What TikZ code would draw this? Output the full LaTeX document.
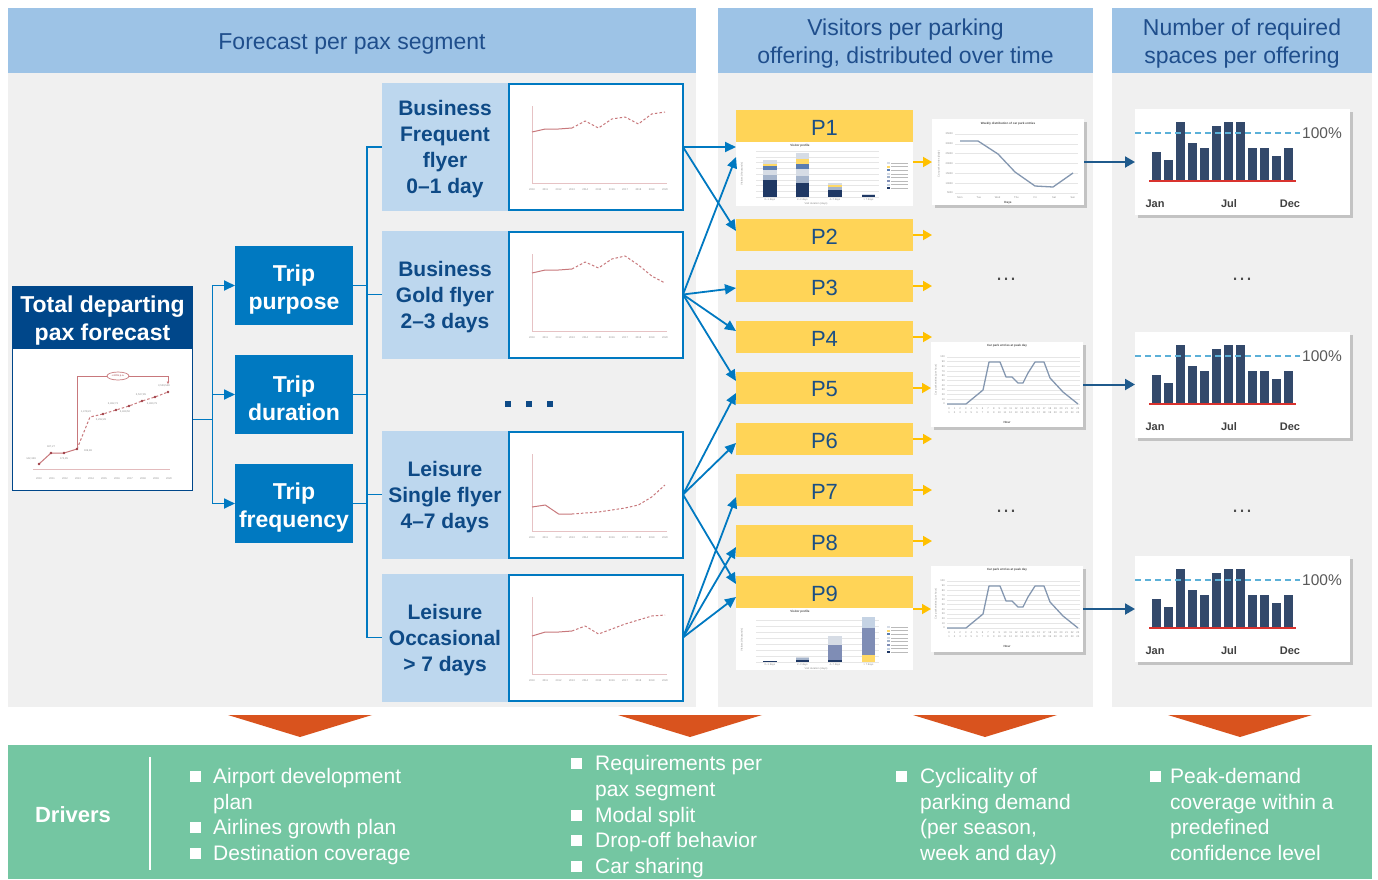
\documentclass[tikz,border=0pt]{standalone}
\usepackage{fontspec}
\setmainfont{Liberation Sans}
\usetikzlibrary{arrows.meta,shadows,calc}

\definecolor{hdrblue}{HTML}{9DC3E6}
\definecolor{hdrtxt}{HTML}{1F4E8C}
\definecolor{panelgray}{HTML}{F0F0F0}
\definecolor{navyhdr}{HTML}{00478A}
\definecolor{tripblue}{HTML}{0079C1}
\definecolor{seglight}{HTML}{BDD7EE}
\definecolor{segtxt}{HTML}{0E4A86}
\definecolor{pyellow}{HTML}{FFD457}
\definecolor{ptxt}{HTML}{1B4F85}
\definecolor{yarrow}{HTML}{FFC000}
\definecolor{navyarr}{HTML}{1F5A8C}
\definecolor{barnavy}{HTML}{33496B}
\definecolor{dashblue}{HTML}{5BB0D8}
\definecolor{redline}{HTML}{D9322E}
\definecolor{chevron}{HTML}{D9531E}
\definecolor{drvgreen}{HTML}{74C6A2}
\definecolor{plotred}{HTML}{C8787C}
\definecolor{plotdark}{HTML}{9E3D45}
\definecolor{gridgray}{HTML}{E6E6E6}
\definecolor{tinygray}{HTML}{8C8C8C}
\definecolor{wkline}{HTML}{8497B0}
\definecolor{stkA}{HTML}{1F3864}
\definecolor{stkB}{HTML}{A5B4CB}
\definecolor{stkC}{HTML}{D6DCE5}
\definecolor{stkD}{HTML}{5B7DB1}
\definecolor{stkE}{HTML}{FFD966}
\definecolor{stkF}{HTML}{7F8DB5}
\definecolor{stkG}{HTML}{C5D3E4}

\newcommand{\fs}[2]{\fontsize{#1}{#2}\selectfont}

% axes and year labels of a segment trend chart
\newcommand{\segaxes}[2]{%
\begin{scope}[shift={(0,#2)}]
  \draw[plotred!45, line width=0.7pt] (532,23) -- (532,100) -- (667,100);
  \foreach \i [evaluate=\i as \yr using int(2010+\i)] in {0,...,10}
    \node[tinyt] (#1yr\i) at ({532+13.3*\i},107) {\yr};
\end{scope}}

% monthly demand bars against the 100% capacity line
\newcommand{\demandbars}[1]{%
\begin{scope}[shift={(#1.north west)}]
  \foreach \i/\h in {0/43,1/51,2/13,3/34,4/39,5/17,6/13,7/13,8/39,9/39,10/47,11/39}
    \fill[barnavy] ({17+\i*12},\h) rectangle ({26+\i*12},72);
  \draw[redline, line width=1.4pt] (14,72) -- (161,72);
  \draw[dashblue, line width=1.4pt, dash pattern=on 6pt off 4pt] (0,24) -- (165,24);
  \node[anchor=west, inner sep=0pt, text=black!65, font=\fs{15.5}{16}] (#1pct) at (167,24) {100\%};
  \node[monthlbl] (#1jan) at (20,95) {Jan};
  \node[monthlbl] (#1jul) at (94,95) {Jul};
  \node[monthlbl] (#1dec) at (155,95) {Dec};
\end{scope}}

% hourly entries on the peak day
\newcommand{\peakchart}[1]{%
\begin{scope}[shift={(#1.north west)}]
  \node[tinyb] (#1t) at (76,4) {Car park entries at peak day};
  \foreach \k in {0,...,10} \draw[gridgray, line width=0.5pt] (16,{15+\k*4.7}) -- (149,{15+\k*4.7});
  \foreach \k [evaluate=\k as \v using int(100-10*\k)] in {0,...,10}
    \node[tinyt, anchor=east] (#1y\k) at (14,{15+\k*4.7}) {\v};
  \node[tinyt, rotate=90] (#1yl) at (5,38) {Car park entries (per hour)};
  \draw[wkline, line width=1.3pt, line join=round] (16,62) -- (35,62) -- (52,48) -- (58,20) -- (69,20) -- (75,35) -- (81,35) -- (87,41) -- (92,41) -- (97,31) -- (104,20) -- (113,20) -- (119,36) -- (132,50) -- (147,62);
  \foreach \i [evaluate=\i as \j using int(\i+1)] in {0,...,23} {
    \node[tinyt] (#1a\i) at ({18+\i*5.6},67) {\i};
    \node[tinyt] (#1b\i) at ({18+\i*5.6},71) {\j};}
  \node[tinyb] (#1xl) at (76,80) {Hour};
\end{scope}}

\begin{document}
\begin{tikzpicture}[x=1pt,y=-1pt,
  box/.style={inner sep=0pt, outer sep=0pt, align=center},
  lbl/.style={inner sep=0pt, align=center},
  hdr/.style={box, fill=hdrblue},
  hdrtext/.style={lbl, text=hdrtxt, font=\fs{23}{28}},
  totbox/.style={box, fill=navyhdr},
  tottext/.style={lbl, text=white, font=\bfseries\fs{23}{28}},
  trip/.style={box, fill=tripblue, minimum width=118pt, minimum height=79pt},
  triptext/.style={lbl, text=white, font=\bfseries\fs{23}{28}},
  segl/.style={box, fill=seglight, minimum width=126pt, minimum height=128pt},
  segtext/.style={lbl, text=segtxt, font=\bfseries\fs{21}{26}},
  segc/.style={box, fill=white, draw=tripblue, line width=2pt, minimum width=174pt, minimum height=126pt},
  pbox/.style={box, fill=pyellow, minimum width=177pt, minimum height=32pt},
  ptext/.style={lbl, text=ptxt, font=\fs{22}{26}},
  pchart/.style={box, fill=white, minimum width=177pt},
  card/.style={box, fill=white, drop shadow={shadow xshift=3pt, shadow yshift=-3pt, opacity=0.4}},
  conn/.style={draw=tripblue, line width=1.8pt},
  carr/.style={conn, -{Triangle[length=11pt,width=10pt]}},
  yarr/.style={draw=yarrow, line width=1.8pt, -{Triangle[length=9pt,width=10pt]}},
  narr/.style={draw=navyarr, line width=2pt, -{Triangle[length=10pt,width=11pt]}},
  trend/.style={draw=plotred, line width=1pt, line join=round},
  trendf/.style={trend, dash pattern=on 2.5pt off 2pt},
  tinyt/.style={font=\fs{2.6}{3}, text=tinygray, inner sep=0pt},
  tinyb/.style={font=\bfseries\fs{3}{3.5}, text=black!70, inner sep=0pt},
  monthlbl/.style={font=\bfseries\fs{11}{12}, text=black!75, inner sep=0pt},
  dotsstyle/.style={font=\fs{22}{24}, text=black!70, inner sep=0pt},
  drv/.style={anchor=base west, inner sep=0pt, text=white, font=\fs{21}{25}}
]
\useasboundingbox (0,0) rectangle (1378,879);
\fill[white] (0,0) rectangle (1378,879);

% ---------- column panels and headers ----------
\fill[panelgray] (8,73) rectangle (696,707);
\fill[panelgray] (718,73) rectangle (1093,707);
\fill[panelgray] (1112,73) rectangle (1372,707);
\node[hdr, minimum width=688pt, minimum height=65pt] (hseg) at (352,40.5) {};
\node[hdr, minimum width=375pt, minimum height=65pt] (hvis) at (905.5,40.5) {};
\node[hdr, minimum width=260pt, minimum height=65pt] (hreq) at (1242,40.5) {};
\node[hdrtext] (hsegt) at ($(hseg.center)+(0,3)$) {Forecast per pax segment};
\node[hdrtext] (hvist) at ($(hvis.center)+(0,3)$) {Visitors per parking\\offering, distributed over time};
\node[hdrtext] (hreqt) at ($(hreq.center)+(0,3)$) {Number of required\\spaces per offering};

% ---------- chevrons and drivers band ----------
\foreach \c in {300,690,985,1240}
  \fill[chevron] ({\c-72},715) -- ({\c+72},715) -- (\c,737) -- cycle;
\fill[drvgreen] (8,745) rectangle (1372,879);
\node[font=\bfseries\fs{22}{26}, text=white, inner sep=0pt] (drivers) at (73,815) {Drivers};
\draw[white, line width=1.5pt] (150,757) -- (150,870);

\foreach \x/\y in {190/783.5, 190/834.5, 190/860, 571/770, 571/822, 571/847, 571/873, 896/783.5, 1150/783.5}
  \fill[white] (\x,{\y-12.5}) rectangle ({\x+11},{\y-1.5});
\node[drv] (d1a) at (213,783.5) {Airport development};
\node[drv] (d1b) at (213,809) {plan};
\node[drv] (d1c) at (213,834.5) {Airlines growth plan};
\node[drv] (d1d) at (213,860) {Destination coverage};
\node[drv] (d2a) at (595,770) {Requirements per};
\node[drv] (d2b) at (595,796) {pax segment};
\node[drv] (d2c) at (595,822) {Modal split};
\node[drv] (d2d) at (595,847) {Drop-off behavior};
\node[drv] (d2e) at (595,873) {Car sharing};
\node[drv] (d3a) at (920,783.5) {Cyclicality of};
\node[drv] (d3b) at (920,809) {parking demand};
\node[drv] (d3c) at (920,834.5) {(per season,};
\node[drv] (d3d) at (920,860) {week and day)};
\node[drv] (d4a) at (1170,783.5) {Peak-demand};
\node[drv] (d4b) at (1170,809) {coverage within a};
\node[drv] (d4c) at (1170,834.5) {predefined};
\node[drv] (d4d) at (1170,860) {confidence level};

% ---------- total forecast ----------
\node[totbox, minimum width=181pt, minimum height=62pt] (tot) at (102.5,317) {};
\node[tottext] (tott) at ($(tot.center)+(0,4)$) {Total departing\\pax forecast};
\node[box, fill=white, draw=navyhdr, line width=1.2pt, minimum width=180pt, minimum height=142pt] (totc) at (102.5,419.5) {};
\draw[plotred!50, line width=0.8pt] (33,469) -- (170,469);
\foreach \i [evaluate=\i as \yr using int(2010+\i)] in {0,...,10}
  \node[tinyt] (tyr\i) at ({39+13*\i},479) {\yr};
\draw[plotred, line width=0.8pt] (77,449) -- (77,376) -- (168,376);
\draw[plotred, line width=0.8pt, -{Triangle[length=2.5pt,width=2.5pt]}] (168,376) -- (168,384);
\draw[plotred, line width=0.7pt, fill=white] (118,376) ellipse (11 and 4);
\node[tinyt, text=plotdark] (cagr) at (118,376) {+4.8\% p.a.};
\draw[trend] (39,464) -- (51,453) -- (64,453) -- (77,449);
\draw[trendf] (77,449) -- (90,417) -- (103,414) -- (116,410) -- (129,406) -- (142,401) -- (155,397) -- (168,392);
\foreach \px/\py in {39/464,51/453,64/453,77/449,103/414,116/410,129/406,142/401,155/397,168/392}
  \fill[plotdark] (\px,\py) circle (1.4);
\node[tinyt] (tv1) at (31,459) {142,349};
\node[tinyt] (tv2) at (51,447) {187,27};
\node[tinyt] (tv3) at (64,459) {174,85};
\node[tinyt] (tv4) at (88,451) {199,86};
\node[tinyt] (tv5) at (86,412) {1,478,22};
\node[tinyt] (tv6) at (101,420) {3,292,28};
\node[tinyt] (tv7) at (113,404) {3,482,73};
\node[tinyt] (tv8) at (125,412) {3,469,50};
\node[tinyt] (tv9) at (141,395) {3,527,85};
\node[tinyt] (tv10) at (152,404) {3,480,79};
\node[tinyt] (tv11) at (164,386) {3,539,548};

% ---------- trip dimensions ----------
\node[trip] (tp) at (294,285.5) {};
\node[trip] (td) at (294,394.5) {};
\node[trip] (tf) at (294,503.5) {};
\node[triptext] (tpt) at ($(tp.center)+(0,4)$) {Trip\\purpose};
\node[triptext] (tdt) at ($(td.center)+(0,4)$) {Trip\\duration};
\node[triptext] (tft) at ($(tf.center)+(0,4)$) {Trip\\frequency};

% ---------- pax segments ----------
\node[segl] (bfl) at (445,147) {};
\node[segc] (bfc) at (596,147) {};
\node[segl] (bgl) at (445,294.5) {};
\node[segc] (bgc) at (596,294.5) {};
\node[segl] (lsl) at (445,494.5) {};
\node[segc] (lsc) at (596,494.5) {};
\node[segl] (lol) at (445,637.5) {};
\node[segc] (loc) at (596,637.5) {};
\node[segtext] (bft) at ($(bfl.center)+(0,2)$) {Business\\Frequent\\flyer\\0--1 day};
\node[segtext] (bgt) at ($(bgl.center)+(0,2.5)$) {Business\\Gold flyer\\2--3 days};
\node[segtext] (lst) at ($(lsl.center)+(0,2.5)$) {Leisure\\Single flyer\\4--7 days};
\node[segtext] (lot) at ($(lol.center)+(0,2.5)$) {Leisure\\Occasional\\> 7 days};
\foreach \x in {508,529,550} \fill[segtxt] ({\x-2.8},401) rectangle ({\x+2.8},406.6);

\segaxes{bfc}{83}
\segaxes{bgc}{231}
\segaxes{lsc}{431}
\segaxes{loc}{574}
\begin{scope}[shift={(0,83)}]
  \draw[trend] (532,49) -- (545.3,46) -- (558.6,46) -- (571.9,45);
  \draw[trendf] (571.9,45) -- (585.2,38) -- (598.5,45) -- (611.8,36) -- (625.1,34) -- (638.4,41) -- (651.7,31) -- (665,29);
\end{scope}
\begin{scope}[shift={(0,231)}]
  \draw[trend] (532,42) -- (545.3,39) -- (558.6,39) -- (571.9,38);
  \draw[trendf] (571.9,38) -- (585.2,31) -- (598.5,37) -- (611.8,28) -- (625.1,25) -- (638.4,34) -- (651.7,45) -- (665,52);
\end{scope}
\begin{scope}[shift={(0,431)}]
  \draw[trend] (532,76) -- (545.3,74) -- (558.6,83) -- (571.9,83);
  \draw[trendf] (571.9,83) -- (585.2,82) -- (598.5,81) -- (611.8,79) -- (625.1,77) -- (638.4,74) -- (651.7,66) -- (665,54);
\end{scope}
\begin{scope}[shift={(0,574)}]
  \draw[trend] (532,62) -- (545.3,58) -- (558.6,58) -- (571.9,57);
  \draw[trendf] (571.9,57) -- (585.2,52) -- (598.5,60) -- (611.8,55) -- (625.1,50) -- (638.4,46) -- (651.7,42) -- (665,41);
\end{scope}

% ---------- parking offerings ----------
\foreach \i/\y in {1/126,2/235,3/286,4/337,5/388,6/439,7/490,8/541,9/592} {
  \node[pbox] (p\i) at (824.5,\y) {};
  \node[ptext] (p\i t) at ($(p\i.center)+(0,1.5)$) {P\i};}
\node[pchart, minimum height=64pt] (p1c) at (824.5,174) {};
\node[pchart, minimum height=62pt] (p9c) at (824.5,639) {};

% visitor profile under P1
\begin{scope}[shift={(p1c.north west)}]
  \node[tinyb] (p1ct) at (64,3.5) {Visitor profile};
  \foreach \k in {0,...,8} \draw[gridgray, line width=0.4pt] (20,{9+\k*5.75}) -- (143,{9+\k*5.75});
  \node[tinyt, rotate=90] (p1cy) at (6,32) {Visitors (thousands)};
  \fill[stkA] (27,55) rectangle (41,38);  \fill[stkB] (27,38) rectangle (41,33);
  \fill[stkC] (27,33) rectangle (41,28);  \fill[stkD] (27,28) rectangle (41,24);
  \fill[stkE] (27,24) rectangle (41,22);  \fill[stkC] (27,22) rectangle (41,18);
  \fill[stkA] (60,55) rectangle (73,41);  \fill[stkB] (60,41) rectangle (73,34);
  \fill[stkC] (60,34) rectangle (73,27);  \fill[stkD] (60,27) rectangle (73,22);
  \fill[stkE] (60,22) rectangle (73,17);  \fill[stkC] (60,17) rectangle (73,11);
  \fill[stkA] (92,55) rectangle (106,48); \fill[stkB] (92,48) rectangle (106,45);
  \fill[stkE] (92,45) rectangle (106,43); \fill[stkC] (92,43) rectangle (106,41);
  \fill[stkA] (126,55) rectangle (139,53); \fill[stkC] (126,53) rectangle (139,52);
  \node[tinyt] (p1cx1) at (34,58) {0--1 days};
  \node[tinyt] (p1cx2) at (66.5,58) {2--3 days};
  \node[tinyt] (p1cx3) at (99,58) {4--7 days};
  \node[tinyt] (p1cx4) at (132.5,58) {> 7 days};
  \node[tinyt] (p1cxl) at (80,62) {Visit duration (days)};
  \foreach \k/\c in {0/stkC,1/stkE,2/stkD,3/stkC,4/stkB,5/stkF,6/stkG,7/stkA}
    {\fill[\c] (151,{20+\k*3.6}) rectangle ++(2.5,2);
     \draw[tinygray!60, line width=0.6pt] (155,{21+\k*3.6}) -- ++(17,0);}
\end{scope}

% visitor profile under P9
\begin{scope}[shift={(p9c.north west)}]
  \node[tinyb] (p9ct) at (64,4) {Visitor profile};
  \foreach \k in {0,...,7} \draw[gridgray, line width=0.4pt] (20,{12+\k*6}) -- (143,{12+\k*6});
  \node[tinyt, rotate=90] (p9cy) at (6,32) {Visitors (thousands)};
  \fill[stkA] (27,54) rectangle (41,53.2);
  \fill[stkA] (60,54) rectangle (73,52);  \fill[stkB] (60,52) rectangle (73,50);
  \fill[stkC] (60,50) rectangle (73,49);
  \fill[stkA] (92,54) rectangle (106,52); \fill[stkF] (92,52) rectangle (106,37);
  \fill[stkC] (92,37) rectangle (106,28);
  \fill[stkE] (126,54) rectangle (139,47); \fill[stkF] (126,47) rectangle (139,20);
  \fill[stkG] (126,20) rectangle (139,9);
  \node[tinyt] (p9cx1) at (34,57) {0--1 days};
  \node[tinyt] (p9cx2) at (66.5,57) {2--3 days};
  \node[tinyt] (p9cx3) at (99,57) {4--7 days};
  \node[tinyt] (p9cx4) at (132.5,57) {> 7 days};
  \node[tinyt] (p9cxl) at (80,61) {Visit duration (days)};
  \foreach \k/\c in {0/stkC,1/stkE,2/stkD,3/stkC,4/stkB,5/stkF,6/stkG,7/stkA}
    {\fill[\c] (151,{18+\k*3.6}) rectangle ++(2.5,2);
     \draw[tinygray!60, line width=0.6pt] (155,{19+\k*3.6}) -- ++(17,0);}
\end{scope}

% ---------- time distribution charts ----------
\node[card, minimum width=152pt, minimum height=86pt] (wk) at (1008,162) {};
\node[card, minimum width=152pt, minimum height=85pt] (pk1) at (1007,384.5) {};
\node[card, minimum width=152pt, minimum height=86pt] (pk2) at (1007,609) {};
\begin{scope}[shift={(wk.north west)}]
  \node[tinyb] (wkt) at (76,5) {Weekly distribution of car park entries};
  \foreach \k in {0,...,6} \draw[gridgray, line width=0.5pt] (23,{15+\k*9.83}) -- (146,{15+\k*9.83});
  \foreach \k/\v in {0/35000,1/30000,2/25000,3/20000,4/15000,5/10000,6/5000}
    \node[tinyt, anchor=east] (wky\k) at (21,{15+\k*9.83}) {\v};
  \node[tinyt, rotate=90] (wkyl) at (7,45) {Car park entries (daily)};
  \draw[wkline, line width=1.3pt, line join=round] (28,22) -- (46,22) -- (66,35) -- (83,53) -- (103,67) -- (121,68) -- (141,54);
  \foreach \i/\d in {0/Mon,1/Tue,2/Wed,3/Thu,4/Fri,5/Sat,6/Sun}
    \node[tinyt] (wkx\i) at ({28+\i*18.8},79) {\d};
  \node[tinyb] (wkxl) at (76,84) {Days};
\end{scope}
\peakchart{pk1}
\peakchart{pk2}

\node[dotsstyle] (vd1) at (1006,279) {…};
\node[dotsstyle] (vd2) at (1006,511) {…};
\node[dotsstyle] (rd1) at (1242,279) {…};
\node[dotsstyle] (rd2) at (1242,511) {…};

% ---------- required spaces ----------
\node[card, minimum width=215pt, minimum height=106pt] (bc1) at (1242.5,162) {};
\node[card, minimum width=215pt, minimum height=106pt] (bc2) at (1242.5,385) {};
\node[card, minimum width=215pt, minimum height=106pt] (bc3) at (1242.5,609) {};
\demandbars{bc1}
\demandbars{bc2}
\demandbars{bc3}

% ---------- connectors ----------
\draw[conn] (totc.east) -- ++(20,0) coordinate (tj);
\draw[carr] (tj) |- (tp.west);
\draw[carr] (tj) |- (td.west);
\draw[carr] (tj) |- (tf.west);

\draw[conn] (bfl.west) -- ++(-15,0) |- (lol.west);
\draw[conn] (bgl.west) -- ++(-15,0);
\draw[conn] (lsl.west) -- ++(-15,0);
\draw[conn] (tp.east) -- ++(14,0);
\draw[conn] (td.east) -- ++(14,0);
\draw[conn] (tf.east) -- ++(14,0);

\draw[carr] (bfc.east) -- (bfc.east -| p1c.west);
\draw[carr] (bfc.east) -- ($(p2.west)+(0,-4)$);
\draw[carr] (bgc.east) -- ($(p1c.north west)+(0,15)$);
\draw[carr] (bgc.east) -- ($(p3.west)+(0,2)$);
\draw[carr] (bgc.east) -- ($(p4.west)+(0,-6)$);
\draw[carr] (bgc.east) -- ($(p5.west)+(0,-7)$);
\draw[carr] (lsc.east) -- ($(p5.west)+(0,5)$);
\draw[carr] (lsc.east) -- ($(p6.west)+(0,4)$);
\draw[carr] (lsc.east) -- ($(p9.west)+(0,-8)$);
\draw[carr] (loc.east) -- ($(p7.west)+(0,7)$);
\draw[carr] (loc.east) -- ($(p8.west)+(0,6)$);
\draw[carr] (loc.east) -- ($(p9.west)+(0,5)$);

\draw[yarr] (wk.west -| p1c.east) -- (wk.west);
\foreach \p in {p2,p3,p4,p6,p7,p8} \draw[yarr] (\p.east) -- ++(19,0);
\draw[yarr] (p5.east) -- (p5.east -| pk1.west);
\draw[yarr] (pk2.west -| p9c.east) -- (pk2.west);

\draw[narr] (wk.east) -- ++(3,0) -- (wk.east -| bc1.west);
\draw[narr] (pk1.east) -- ++(3,0) -- (pk1.east -| bc2.west);
\draw[narr] (pk2.east) -- ++(3,0) -- (pk2.east -| bc3.west);
\end{tikzpicture}
\end{document}
